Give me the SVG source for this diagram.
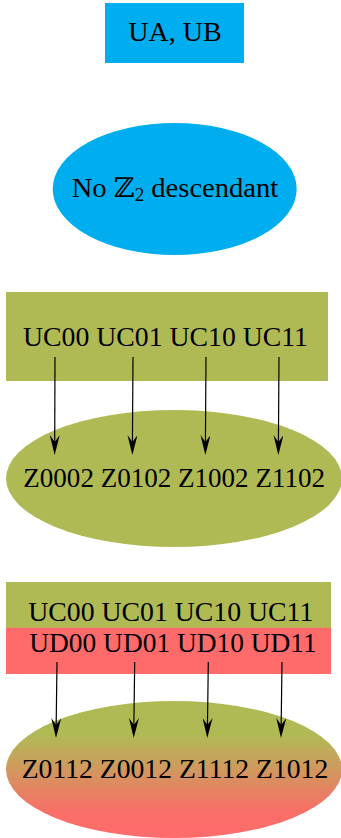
<svg xmlns="http://www.w3.org/2000/svg" width="341" height="838" viewBox="0 0 341 838">
<style>
.t{font-family:"Liberation Serif","DejaVu Serif",serif;font-size:27px;fill:#000;text-anchor:start}
.blue{fill:#00AEEF}
.green{fill:#B0BA55}
.red{fill:#FF6B6B}
.edge{stroke:#000;stroke-width:1.2;fill:none;marker-end:url(#ah)}
</style>
<defs>
<marker id="ah" markerUnits="userSpaceOnUse" viewBox="0 0 20 10" markerWidth="20" markerHeight="10" refX="12" refY="5" orient="auto">
<path d="M0,0 L20,5 L0,10 L7,5 Z" fill="#000"/>
</marker>
<linearGradient id="gr" x1="0" y1="0" x2="0" y2="1">
<stop offset="0.25" stop-color="#B0BA55"/>
<stop offset="0.8" stop-color="#F86F68"/>
<stop offset="1" stop-color="#FF6B6B"/>
</linearGradient>
</defs>
<g id="node-uaub">
<rect class="blue" x="105" y="3" width="139" height="60"/>
<text class="t" x="128.3" y="40.5" textLength="93.4" lengthAdjust="spacingAndGlyphs">UA, UB</text>
</g>
<g id="node-noz2">
<ellipse class="blue" cx="174.7" cy="189" rx="122" ry="66"/>
<text class="t" x="71.7" y="197" textLength="206.6" lengthAdjust="spacingAndGlyphs">No <tspan font-family="DejaVu Serif">ℤ</tspan><tspan font-size="18" dy="4">2</tspan><tspan dy="-4"> descendant</tspan></text>
</g>
<g id="node-uc">
<rect class="green" x="6" y="292" width="322" height="89"/>
<text class="t" x="23" y="345.7" textLength="285" lengthAdjust="spacingAndGlyphs">UC00 UC01 UC10 UC11</text>
</g>
<g id="node-z02">
<ellipse class="green" cx="174" cy="478.5" rx="168" ry="68.5"/>
<text class="t" x="23.3" y="486.7" textLength="301.7" lengthAdjust="spacingAndGlyphs">Z0002 Z0102 Z1002 Z1102</text>
</g>
<g id="node-ucud">
<rect class="green" x="6" y="582" width="325" height="46"/>
<rect class="red" x="6" y="627.7" width="325" height="46.3"/>
<text class="t" x="28.3" y="620.7" textLength="285" lengthAdjust="spacingAndGlyphs">UC00 UC01 UC10 UC11</text>
<text class="t" x="29.3" y="652" textLength="287.4" lengthAdjust="spacingAndGlyphs">UD00 UD01 UD10 UD11</text>
</g>
<g id="node-z12">
<ellipse fill="url(#gr)" cx="174" cy="769.5" rx="168" ry="68.5"/>
<text class="t" x="21.7" y="777.7" textLength="306.6" lengthAdjust="spacingAndGlyphs">Z0112 Z0012 Z1112 Z1012</text>
</g>
<g id="connectors">
<line class="edge" x1="55" y1="357" x2="54.7" y2="447"/>
<line class="edge" x1="133" y1="357" x2="132.4" y2="447"/>
<line class="edge" x1="206" y1="357" x2="205.4" y2="447"/>
<line class="edge" x1="279" y1="357" x2="278.4" y2="447"/>
<line class="edge" x1="57" y1="662" x2="56.1" y2="730"/>
<line class="edge" x1="134.7" y1="662" x2="133.8" y2="730"/>
<line class="edge" x1="208.3" y1="662" x2="207.4" y2="730"/>
<line class="edge" x1="282" y1="662" x2="281.1" y2="730"/>
</g>
</svg>
